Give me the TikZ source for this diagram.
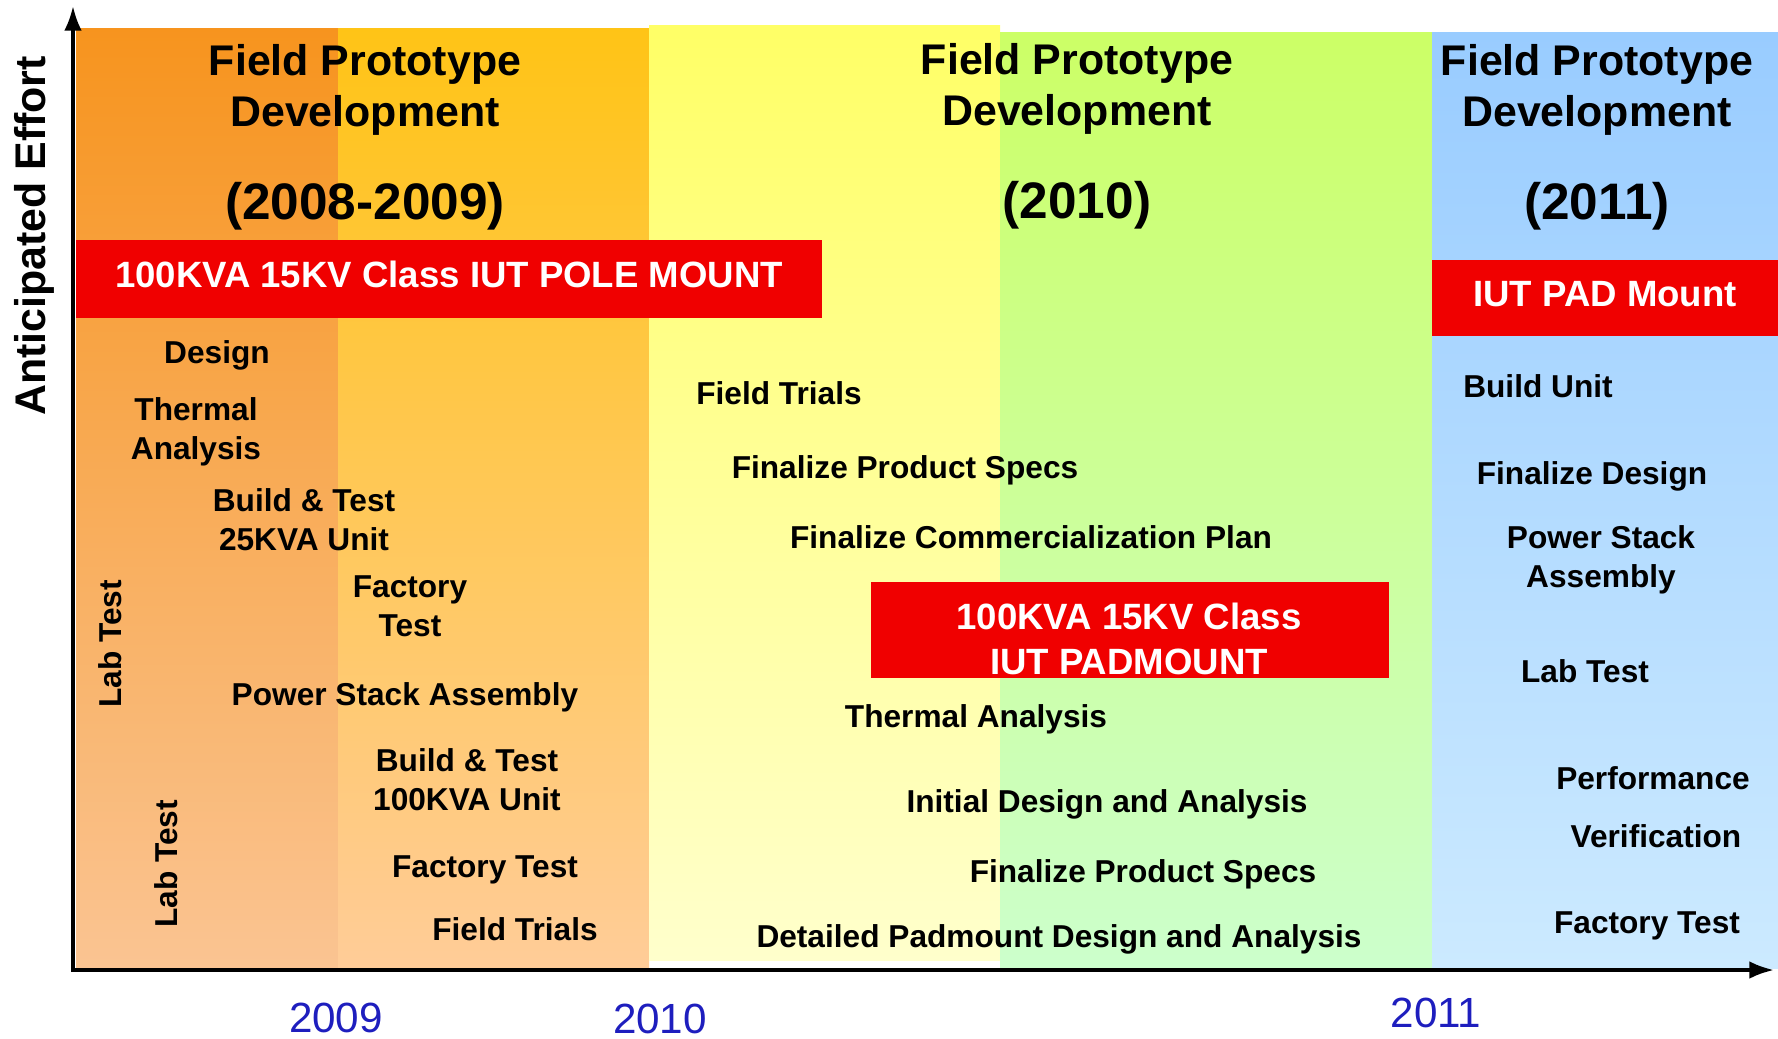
\documentclass[tikz,border=0pt]{standalone}
\usepackage{fontspec}
\setmainfont{Liberation Sans}
\usetikzlibrary{positioning, arrows.meta}

\definecolor{barred}{RGB}{240,0,0}
\definecolor{yearblue}{RGB}{30,30,190}
\definecolor{orangetop}{RGB}{247,148,30}
\definecolor{orangebot}{RGB}{250,196,146}
\definecolor{goldtop}{RGB}{255,196,22}
\definecolor{goldbot}{RGB}{255,204,152}
\definecolor{yellowtop}{RGB}{255,255,102}
\definecolor{yellowbot}{RGB}{255,255,204}
\definecolor{greentop}{RGB}{204,255,102}
\definecolor{greenbot}{RGB}{204,255,204}
\definecolor{bluetop}{RGB}{153,204,255}
\definecolor{bluebot}{RGB}{204,234,255}

\tikzstyle{task} = [font=\fontsize{9}{11}\selectfont\bfseries,
    align=center, inner sep=0pt]
\tikzstyle{phase} = [font=\fontsize{12.2}{14.5}\selectfont\bfseries,
    align=center, inner sep=0pt]
\tikzstyle{period} = [font=\fontsize{14.6}{17}\selectfont\bfseries,
    inner sep=0pt]
\tikzstyle{redbar} = [fill=barred, text=white,
    font=\fontsize{10.4}{12.9}\selectfont\bfseries, align=center, inner sep=0pt]
\tikzstyle{bartext} = [text=white,
    font=\fontsize{10.4}{12.9}\selectfont\bfseries, align=center, inner sep=0pt]
\tikzstyle{yearlbl} = [font=\fontsize{12}{14}\selectfont, text=yearblue,
    inner sep=0pt]
\tikzstyle{axisline} = [line width=1pt, {Latex[length=7pt,width=5pt]}-{Latex[length=7pt,width=5pt]}]

\begin{document}
\begin{tikzpicture}[x=0.01cm, y=-0.01cm]
    \useasboundingbox (0,0) rectangle (1778,1038);

    % background bands, one per phase
    \shade[top color=orangetop, bottom color=orangebot] (76,28) rectangle (338,968);
    \shade[top color=goldtop, bottom color=goldbot] (338,28) rectangle (649,968);
    \shade[top color=yellowtop, bottom color=yellowbot] (649,25) rectangle (1000,960);
    \shade[top color=greentop, bottom color=greenbot] (1000,32) rectangle (1432,968);
    \shade[top color=bluetop, bottom color=bluebot] (1432,32) rectangle (1778,968);

    % axes
    \coordinate (origin) at (73,970);
    \coordinate (ytip) at (73,6);
    \coordinate (xtip) at (1774,970);
    \draw[axisline] (ytip) -- (origin) -- (xtip);

    \node[
        font=\fontsize{12.2}{14.5}\selectfont\bfseries,
        rotate=90,
        inner sep=0pt
    ](effort) at (34,236) {Anticipated Effort};

    \node[yearlbl](y2009) at (336,1018) {2009};
    \node[yearlbl](y2010) at (660,1019) {2010};
    \node[yearlbl](y2011) at (1436,1013) {2011};

    % phase headings
    \node[phase](phaseA) at (365,90) {Field Prototype\\Development};
    \node[period](yearsA) at (365,206) {(2008-2009)};
    \node[phase](phaseB) at (1077,89) {Field Prototype\\Development};
    \node[period](yearsB) at (1077,205) {(2010)};
    \node[phase](phaseC) at (1597,90) {Field Prototype\\Development};
    \node[period](yearsC) at (1597,206) {(2011)};

    % product bars
    \node[
        redbar,
        minimum width=7.46cm,
        minimum height=0.78cm,
        text depth=0.09cm
    ](pole) at (449,279) {100KVA 15KV Class IUT POLE MOUNT};

    \node[
        redbar,
        minimum width=5.18cm,
        minimum height=0.95cm
    ](padmount) at (1130,630) {};
    \node[bartext](padlabel) at (1129,639) {100KVA 15KV Class\\IUT PADMOUNT};

    \node[
        redbar,
        minimum width=3.46cm,
        minimum height=0.76cm,
        text depth=0.09cm
    ](pad) at (1605,298) {IUT PAD Mount};

    % 2008-2009 tasks
    \node[task](design) at (217,355) {Design};
    \node[task](thermA) at (196,432) {Thermal\\Analysis};
    \node[task](build25) at (304,520) {Build \& Test\\25KVA Unit};
    \node[task](factA) at (410,606) {Factory\\Test};
    \node[task](stackA) at (405,697) {Power Stack Assembly};
    \node[task](build100) at (467,780) {Build \& Test\\100KVA Unit};
    \node[task](factB) at (485,870) {Factory Test};
    \node[task](trialsA) at (515,929) {Field Trials};
    \node[task, rotate=90](labA) at (110,644) {Lab Test};
    \node[task, rotate=90](labB) at (166,864) {Lab Test};

    % 2010 tasks
    \node[task](trialsB) at (779,393) {Field Trials};
    \node[task](specsA) at (905,470) {Finalize Product Specs};
    \node[task](commerce) at (1031,537) {Finalize Commercialization Plan};
    \node[task](thermB) at (976,719) {Thermal Analysis};
    \node[task](initial) at (1107,804) {Initial Design and Analysis};
    \node[task](specsB) at (1143,874) {Finalize Product Specs};
    \node[task](detailed) at (1059,939) {Detailed Padmount Design and Analysis};

    % 2011 tasks
    \node[task](buildunit) at (1538,386) {Build Unit};
    \node[task](findesign) at (1592,476) {Finalize Design};
    \node[task](stackB) at (1601,560) {Power Stack\\Assembly};
    \node[task](labC) at (1585,671) {Lab Test};
    \node[task](perf) at (1653,778) {Performance};
    \node[task](verif) at (1656,836) {Verification};
    \node[task](factC) at (1647,926) {Factory Test};
\end{tikzpicture}
\end{document}
